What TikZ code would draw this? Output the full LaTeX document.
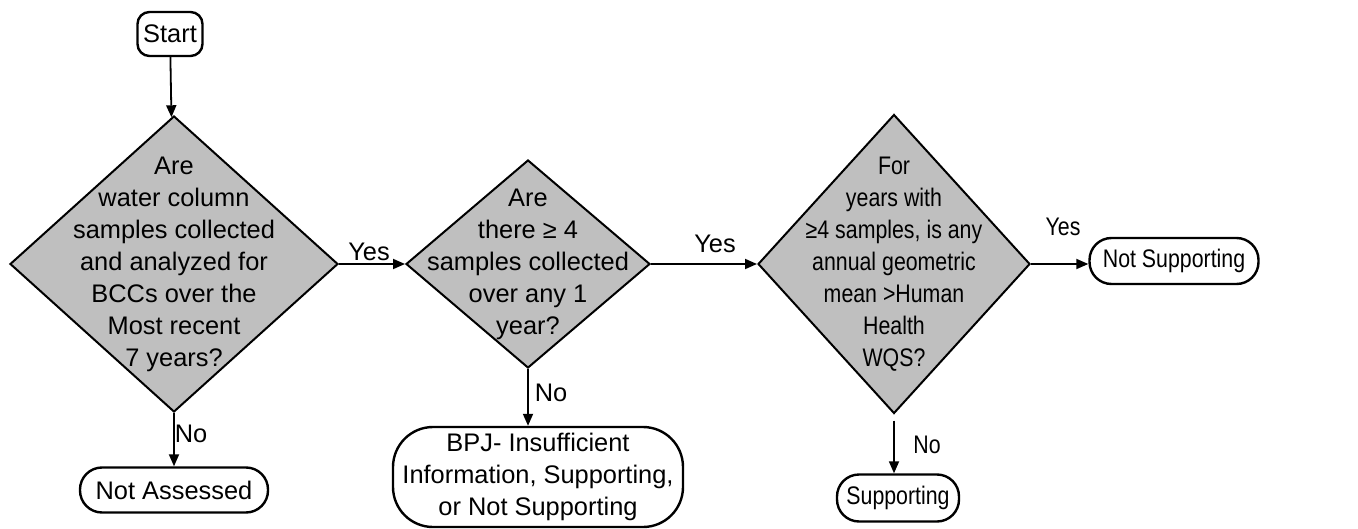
\documentclass[tikz,border=0pt]{standalone}
\usepackage{fontspec}
\setmainfont{Liberation Sans}
\usepackage{graphicx}
\usepackage{tikz}
\usetikzlibrary{shapes.geometric}
\usetikzlibrary{arrows.meta}
\newcommand{\cond}[1]{\scalebox{0.84}[1]{#1}}
\tikzset{
    every node/.style={font=\fontsize{12.7}{16}\selectfont},
    decision/.style={shape=diamond,draw,line width=1pt,fill=black!25,inner sep=0pt},
    term/.style={shape=rectangle,draw,line width=1.2pt,rounded corners=11pt,inner sep=0pt,align=center},
    flow/.style={draw,line width=0.9pt,-{Triangle[length=6pt,width=5pt]}}
}
\begin{document}
\begin{tikzpicture}[x=0.5pt,y=-0.5pt]
    \useasboundingbox (0,0) rectangle (1358,529);
    \node[term,rounded corners=6pt,minimum width=32.5pt,minimum height=22pt] (start) at (170,34) {Start};
    \node[decision,minimum width=164pt,minimum height=148pt,
      label={[align=center]center:{Are\\water column\\samples collected\\and analyzed for\\BCCs over the\\Most recent\\7 years?}}] (d1) at (174,264) {};
    \node[term,minimum width=94pt,minimum height=22.5pt] (na) at (174,490) {Not Assessed};
    \node[decision,minimum width=122pt,minimum height=104pt,
      label={[align=center]center:{Are\\there ≥ 4\\samples collected\\over any 1\\year?}}] (d2) at (528,264) {};
    \node[term,rounded corners=20pt,minimum width=145pt,minimum height=50pt] (bpj) at (538,477)
      {BPJ- Insufficient\\Information, Supporting,\\or Not Supporting};
    \node[decision,minimum width=136pt,minimum height=149.5pt,
      label={center:{\cond{\begin{tabular}{@{}c@{}}For\\years with\\≥4 samples, is any\\annual geometric\\mean >Human\\Health\\WQS?\end{tabular}}}}] (d3) at (894,264) {};
    \node[term,minimum width=84.5pt,minimum height=23pt] (ns) at (1174,261) {\cond{Not Supporting}};
    \node[term,minimum width=61pt,minimum height=23.5pt] (sup) at (898,498) {\cond{Supporting}};
    \draw[flow] (start) -- (d1);
    \draw[flow] (d1) -- (na);
    \draw[flow] (d1) -- (d2);
    \draw[flow] (d2.south) -- (d2.south |- bpj.north);
    \draw[flow] (d2) -- (d3);
    \draw[flow] (d3.east) -- (d3.east -| ns.west);
    \draw[flow,shorten <=3pt] (d3.south) -- (d3.south |- sup.north);
    \node (yes1) at (369,252) {Yes};
    \node (no1) at (191,434) {No};
    \node (no2) at (551,393) {No};
    \node (yes2) at (715,244) {Yes};
    \node (yes3) at (1063,227) {\cond{Yes}};
    \node (no3) at (927,445) {\cond{No}};
\end{tikzpicture}
\end{document}
